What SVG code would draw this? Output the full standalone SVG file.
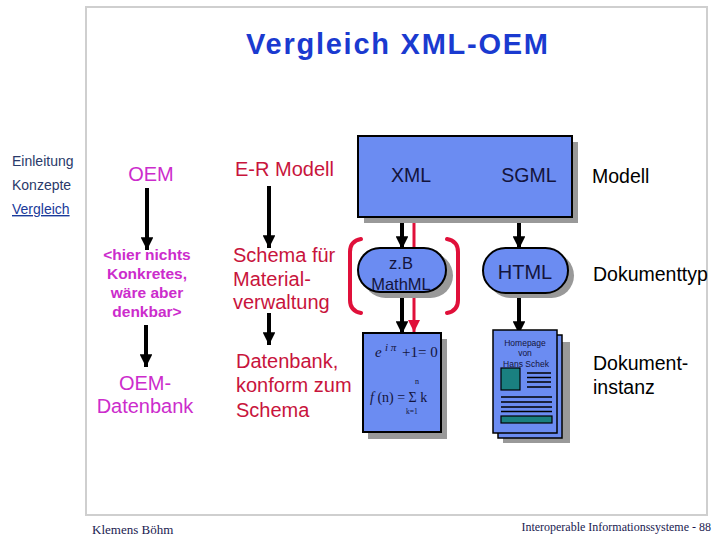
<svg xmlns="http://www.w3.org/2000/svg" width="720" height="540" viewBox="0 0 720 540">
<defs>
<style>
.sans{font-family:"Liberation Sans",Arial,sans-serif}
.serif{font-family:"Liberation Serif","Times New Roman",serif}
.mag{fill:#cc2ccc}
.red{fill:#c8143c}
.navy{fill:#14143c}
.box{fill:#6b8cf2;stroke:#000;stroke-width:2}
.shadow{fill:#999}
.arr{stroke:#000;stroke-width:4;fill:none}
.brk{stroke:#e0103a;stroke-width:4;fill:none;stroke-linecap:round}
.line{stroke:#000;stroke-width:1.5}
</style>
<marker id="ah" viewBox="0 0 10 10" refX="10" refY="5" markerWidth="3.2" markerHeight="3.2" orient="auto" markerUnits="strokeWidth">
<path d="M0,0 L10,5 L0,10 Z" fill="#000"/>
</marker>
<marker id="ahr" viewBox="0 0 10 10" refX="10" refY="5" markerWidth="4" markerHeight="4" orient="auto" markerUnits="strokeWidth">
<path d="M0,0 L10,5 L0,10 Z" fill="#e0103a"/>
</marker>
</defs>
<rect width="720" height="540" fill="#fff"/>
<rect x="86" y="7" width="621" height="508" fill="none" stroke="#cfcfcf" stroke-width="2"/>
<text x="397" y="54" text-anchor="middle" class="sans" font-size="29" font-weight="bold" fill="#1a3ad0" textLength="302" lengthAdjust="spacing">Vergleich XML-OEM</text>
<g id="nav" class="sans" font-size="14">
<text x="12" y="166" fill="#2a3a6a">Einleitung</text>
<text x="12" y="190" fill="#2a3a6a">Konzepte</text>
<text x="12" y="214" fill="#1a3a9a" text-decoration="underline">Vergleich</text>
</g>
<g id="connectors">
<line x1="147" y1="188" x2="147" y2="250" class="arr" marker-end="url(#ah)"/>
<line x1="146" y1="325" x2="146" y2="367" class="arr" marker-end="url(#ah)"/>
<line x1="269" y1="186" x2="269" y2="248" class="arr" marker-end="url(#ah)"/>
<line x1="269" y1="313" x2="269" y2="345" class="arr" marker-end="url(#ah)"/>
<line x1="402" y1="217" x2="402" y2="249" class="arr" marker-end="url(#ah)"/>
<line x1="402" y1="298" x2="402" y2="334" class="arr" marker-end="url(#ah)"/>
<line x1="519" y1="217" x2="519" y2="249" class="arr" marker-end="url(#ah)"/>
<line x1="519" y1="297" x2="519" y2="334" class="arr" marker-end="url(#ah)"/>
<line x1="414" y1="219" x2="414" y2="332" stroke="#e0103a" stroke-width="3" marker-end="url(#ahr)"/>
</g>
<g id="oem" class="sans">
<text x="151" y="181" text-anchor="middle" font-size="20" class="mag">OEM</text>
<g font-size="15.5" font-weight="bold" text-anchor="middle" class="mag">
<text x="147" y="260">&lt;hier nichts</text>
<text x="147" y="279">Konkretes,</text>
<text x="147" y="298">wäre aber</text>
<text x="147" y="317">denkbar&gt;</text>
</g>
<text x="145" y="390" text-anchor="middle" font-size="20" class="mag">OEM-</text>
<text x="145" y="413" text-anchor="middle" font-size="20" class="mag">Datenbank</text>
</g>
<g id="er" class="sans" font-size="20">
<text x="235" y="176" class="red">E-R Modell</text>
<text x="233" y="262" class="red">Schema für</text>
<text x="233" y="286" class="red">Material-</text>
<text x="233" y="309" class="red">verwaltung</text>
<text x="236" y="368" class="red">Datenbank,</text>
<text x="236" y="392" class="red">konform zum</text>
<text x="236" y="417" class="red">Schema</text>
</g>
<g id="model-box" class="sans">
<rect x="364" y="142" width="214" height="81" class="shadow"/>
<rect x="358" y="136" width="214" height="81" class="box"/>
<text x="411" y="182" text-anchor="middle" font-size="19.5" class="navy">XML</text>
<text x="529" y="182" text-anchor="middle" font-size="19.5" class="navy">SGML</text>
</g>
<g id="mathml" class="sans">
<rect x="363" y="253" width="90" height="45" rx="22.5" class="shadow"/>
<rect x="358" y="248" width="88" height="44" rx="22" class="box"/>
<text x="401" y="269" text-anchor="middle" font-size="16.5" class="navy">z.B</text>
<text x="401" y="290" text-anchor="middle" font-size="16.5" class="navy">MathML</text>
<path d="M361,239 Q350,241 350,252 L350,300 Q350,311 361,313" class="brk"/>
<path d="M447,239 Q458,241 458,252 L458,300 Q458,311 447,313" class="brk"/>
</g>
<g id="html" class="sans">
<rect x="488" y="253" width="86" height="45" rx="22.5" class="shadow"/>
<rect x="483" y="248" width="85" height="45" rx="22.5" class="box"/>
<text x="525" y="279" text-anchor="middle" font-size="20" class="navy">HTML</text>
</g>
<g id="formula" class="serif">
<rect x="368" y="339" width="79" height="100" class="shadow"/>
<rect x="363" y="333" width="78" height="99" class="box"/>
<text x="375" y="357" font-size="15" font-style="italic" class="navy">e</text>
<text x="385" y="351" font-size="11" font-style="italic" class="navy">i π</text>
<text x="402" y="357" font-size="15" class="navy">+1= 0</text>
<text x="415" y="384" font-size="8" class="navy">n</text>
<text x="370" y="402" font-size="14" class="navy"><tspan font-style="italic">f</tspan> (n) = Σ k</text>
<text x="406" y="414" font-size="7.5" class="navy">k=1</text>
</g>
<g id="document">
<rect x="503" y="342" width="67" height="101" class="shadow"/>
<rect x="498" y="335" width="64" height="103" fill="#6b8cf2" stroke="#000" stroke-width="1.5"/>
<rect x="493" y="330" width="64" height="103" fill="#6b8cf2" stroke="#000" stroke-width="1.5"/>
<g class="sans" font-size="8.5" text-anchor="middle" fill="#14143c">
<text x="525" y="346">Homepage</text>
<text x="525" y="356">von</text>
<text x="526" y="367">Hans Schek</text>
</g>
<rect x="501" y="368" width="19" height="22" fill="#1a8080" stroke="#000" stroke-width="1.2"/>
<g class="line">
<line x1="527" y1="373" x2="551" y2="373"/>
<line x1="527" y1="377.5" x2="551" y2="377.5"/>
<line x1="527" y1="382" x2="551" y2="382"/>
<line x1="527" y1="387" x2="551" y2="387"/>
<line x1="501" y1="397" x2="552" y2="397"/>
<line x1="501" y1="402" x2="552" y2="402"/>
<line x1="501" y1="407" x2="552" y2="407"/>
<line x1="501" y1="411.5" x2="552" y2="411.5"/>
</g>
<rect x="501" y="416" width="51" height="7" fill="#1a8080" stroke="#000" stroke-width="1.2"/>
</g>
<g id="labels" class="sans" font-size="19.5" fill="#000">
<text x="592" y="183">Modell</text>
<text x="593" y="281">Dokumenttyp</text>
<text x="593" y="370">Dokument-</text>
<text x="593" y="394">instanz</text>
</g>
<g id="footer" class="serif" font-size="12" fill="#1a1a50">
<text x="92" y="534" font-size="13">Klemens Böhm</text>
<text x="711" y="531" text-anchor="end">Interoperable Informationssysteme - 88</text>
</g>
</svg>
